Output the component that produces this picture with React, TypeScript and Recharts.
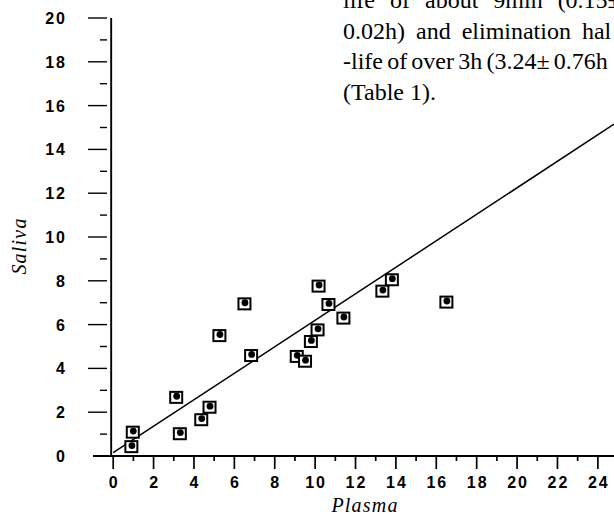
import { ScatterChart, Scatter, XAxis, YAxis, ReferenceLine } from 'recharts';

const plasma = [0.97, 0.9, 3.12, 3.3, 4.36, 4.77, 5.26, 6.5, 6.83, 9.09, 9.5, 9.79, 10.12, 10.17, 10.66, 11.4, 13.33, 13.8, 16.5];
const saliva = [1.11, 0.45, 2.7, 1.04, 1.68, 2.25, 5.52, 6.97, 4.61, 4.57, 4.35, 5.25, 5.78, 7.78, 6.94, 6.32, 7.55, 8.07, 7.05];

// regression line end points
const fitPlasma = [0, 24.8];
const fitSaliva = [0.15, 15.15];

const xTicks = [0, 1, 2, 3, 4, 5, 6, 7, 8, 9, 10, 11, 12, 13, 14, 15, 16, 17, 18, 19, 20, 21, 22, 23, 24];
const yTicks = [0, 1, 2, 3, 4, 5, 6, 7, 8, 9, 10, 11, 12, 13, 14, 15, 16, 17, 18, 19, 20];

// body text of the page next to the figure (justified column, cut by the crop)
const bodyText = [
  'life of about 9min (0.15±',
  '0.02h) and elimination hal',
  '-life of over 3h (3.24± 0.76h',
  '(Table 1).',
];
const bodyWordSpacing = [9, 5, -1.8, 0];

const points = plasma.map((p, i) => ({ plasma: p, saliva: saliva[i] }));
const fit = fitPlasma.map((p, i) => ({ plasma: p, saliva: fitSaliva[i] }));

const tickFont = { fontFamily: '"Liberation Sans", Arial, sans-serif', fontWeight: 700, fontSize: 16, letterSpacing: 2 };
const serif = '"Liberation Serif", "Times New Roman", serif';

const XTick = ({ x, y, payload }: any) => {
  const v = payload.value;
  const major = v % 2 === 0;
  return (
    <g>
      <line x1={x} x2={x} y1={y} y2={y + (major ? 13 : 5)} stroke="#000" strokeWidth={1.7} />
      {major && (
        <text x={x + 1} y={y + 32} textAnchor="middle" fill="#000" style={tickFont}>{v}</text>
      )}
    </g>
  );
};

const YTick = ({ x, y, payload }: any) => {
  const v = payload.value;
  const major = v % 2 === 0;
  return (
    <g>
      {v !== 0 && (
        <line x1={major ? x - 5 : x + 7} x2={x + 14} y1={y} y2={y} stroke="#000" strokeWidth={1.4} />
      )}
      {major && (
        <text x={x - 26} y={y + 6} textAnchor="end" fill="#000" style={tickFont}>{v}</text>
      )}
    </g>
  );
};

const Marker = ({ cx, cy }: any) => (
  <g>
    <rect x={cx - 6} y={cy - 5} width={12} height={11} fill="#fff" stroke="#000" strokeWidth={2} />
    <circle cx={cx + 0.5} cy={cy - 0.6} r={3.4} fill="#000" />
  </g>
);

export default function App() {
  return (
    <div style={{ position: 'absolute', left: 0, top: 0, width: 614, height: 516, overflow: 'hidden', background: '#fff' }}>
      <ScatterChart width={614} height={516} margin={{ top: 18, right: 0, left: 33, bottom: 20 }}>
        <XAxis
          type="number"
          dataKey="plasma"
          domain={[-1, 24.8]}
          ticks={xTicks}
          interval={0}
          allowDataOverflow
          height={40}
          tickSize={0}
          tickMargin={0}
          tickLine={false}
          axisLine={{ stroke: '#000', strokeWidth: 1.8 }}
          tick={(p: any) => <XTick {...p} />}
        />
        <YAxis
          type="number"
          dataKey="saliva"
          domain={[0, 20]}
          ticks={yTicks}
          interval={0}
          width={60}
          tickSize={0}
          tickMargin={0}
          tickLine={false}
          axisLine={false}
          tick={(p: any) => <YTick {...p} />}
        />
        <ReferenceLine x={-0.1} stroke="#000" strokeWidth={1.9} />
        <Scatter
          data={fit}
          line={{ stroke: '#000', strokeWidth: 1.5 }}
          shape={() => <g />}
          isAnimationActive={false}
        />
        <Scatter data={points} shape={(p: any) => <Marker {...p} />} isAnimationActive={false} />
      </ScatterChart>
      <svg width={614} height={516} style={{ position: 'absolute', left: 0, top: 0, pointerEvents: 'none' }}>
        {bodyText.map((t, i) => (
          <text
            key={i}
            x={343}
            y={8 + i * 30.5}
            fill="#000"
            style={{ fontFamily: serif, fontSize: 24, wordSpacing: bodyWordSpacing[i] }}
          >
            {t}
          </text>
        ))}
        <text
          x={365}
          y={512}
          textAnchor="middle"
          fill="#000"
          style={{ fontFamily: serif, fontStyle: 'italic', fontSize: 20, letterSpacing: 1.2 }}
        >
          Plasma
        </text>
        <text
          x={26}
          y={246}
          textAnchor="middle"
          transform="rotate(-90 26 246)"
          fill="#000"
          style={{ fontFamily: serif, fontStyle: 'italic', fontSize: 20, letterSpacing: 1.2 }}
        >
          Saliva
        </text>
      </svg>
    </div>
  );
}
